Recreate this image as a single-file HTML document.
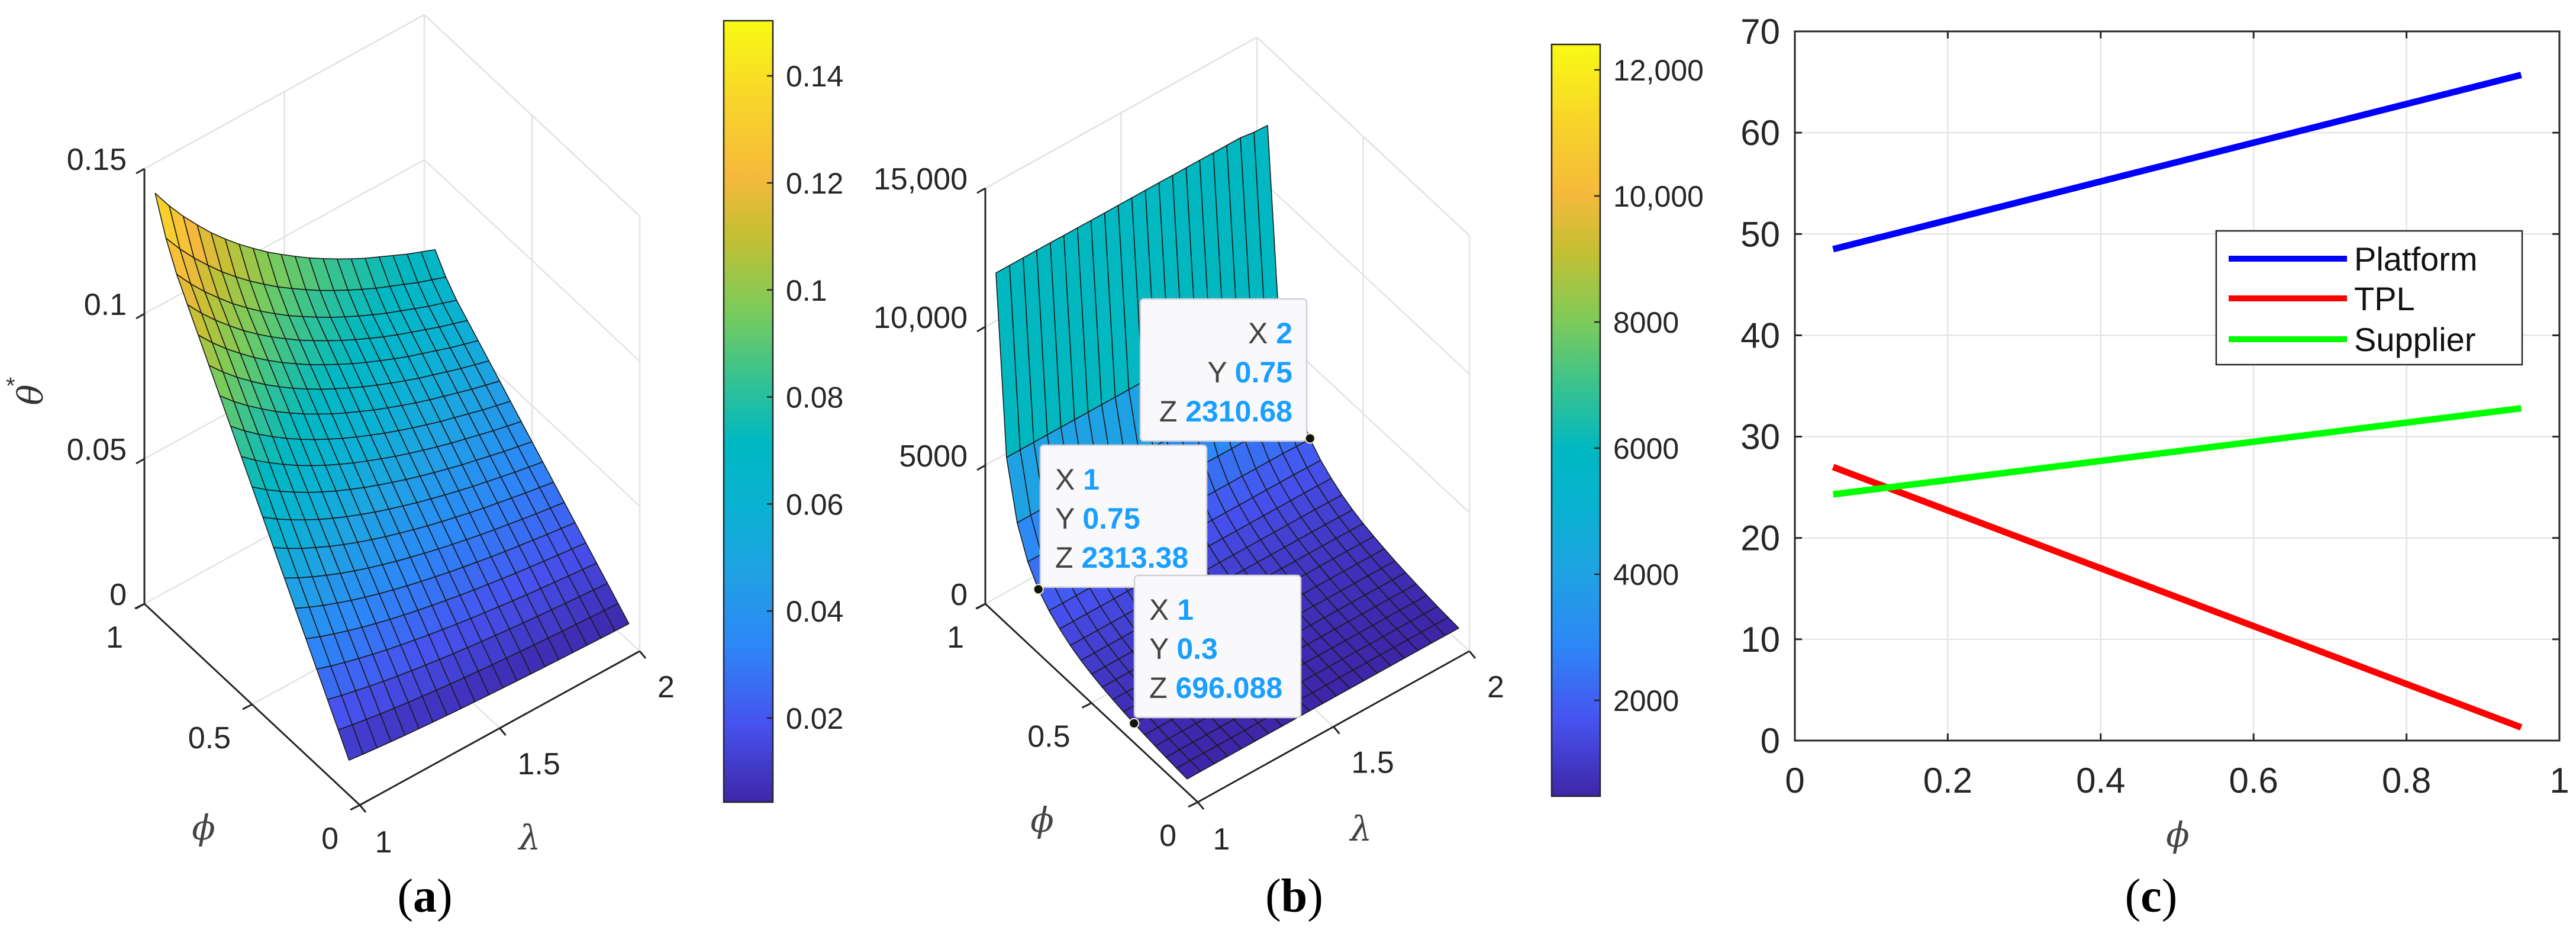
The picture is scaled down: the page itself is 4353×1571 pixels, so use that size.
<!DOCTYPE html>
<html><head><meta charset="utf-8"><style>
html,body{margin:0;padding:0;background:#fff;}
svg{display:block;font-family:"Liberation Sans",sans-serif;}
</style></head><body>
<svg id="fig" width="4353" height="1571" viewBox="0 0 4353 1571" xmlns="http://www.w3.org/2000/svg">
<defs>
<linearGradient id="parula" x1="0" y1="1" x2="0" y2="0">
<stop offset="0" stop-color="#3e26a8"/><stop offset="0.1" stop-color="#4752ef"/><stop offset="0.2" stop-color="#2d87f7"/>
<stop offset="0.3" stop-color="#1ea3e2"/><stop offset="0.38" stop-color="#0ab2d2"/><stop offset="0.46" stop-color="#00b8c2"/><stop offset="0.55" stop-color="#3cc38c"/>
<stop offset="0.63" stop-color="#7ccb5a"/><stop offset="0.72" stop-color="#c2c034"/><stop offset="0.8" stop-color="#f5b93c"/>
<stop offset="0.9" stop-color="#f8d529"/><stop offset="1" stop-color="#f9fa14"/>
</linearGradient>
</defs>
<g id="pa"></g>
<g id="pb"></g>
<g id="pc"></g>
</svg>
<script>
// ---- Panel a data ----
const lamVals = [1,1.05,1.1,1.15,1.2,1.25,1.3,1.35,1.4,1.45,1.5,1.55,1.6,1.65,1.7,1.75,1.8,1.85,1.9,1.95,2];
const phiVals = [0.05,0.1,0.15,0.2,0.25,0.3,0.35,0.4,0.45,0.5,0.55,0.6,0.65,0.7,0.75,0.8,0.85,0.9,0.95];
const thetaAtLam1 = [0.012,0.019,0.026,0.033,0.040,0.047,0.054,0.061,0.068,0.075,0.082,0.089,0.096,0.103,0.110,0.117,0.124,0.133,0.145];
const thetaLamFactor = [1,0.952,0.909,0.870,0.833,0.800,0.769,0.741,0.714,0.690,0.667,0.645,0.625,0.606,0.588,0.571,0.556,0.541,0.526,0.513,0.50];
const aZTicks = [0,0.05,0.1,0.15];
const aZTickLabels = ["0","0.05","0.1","0.15"];
const aCbarTicks = [0.02,0.04,0.06,0.08,0.1,0.12,0.14];
const aCbarLabels = ["0.02","0.04","0.06","0.08","0.1","0.12","0.14"];
// ---- Panel b data ----
const profitByPhi = [480,510,545,590,640,696,760,840,930,1040,1180,1360,1600,1900,2313,2950,4000,6000,12300];
const profitLamFactor = [1,1,1,1,1,0.9995,0.9995,0.999,0.999,0.999,0.999,0.999,0.999,0.9985,0.9985,0.9985,0.998,0.998,0.998,0.992,0.99];
const bZTicks = [0,5000,10000,15000];
const bZTickLabels = ["0","5000","10,000","15,000"];
const bCbarTicks = [2000,4000,6000,8000,10000,12000];
const bCbarLabels = ["2000","4000","6000","8000","10,000","12,000"];
const tipLam = [2,1,1];
const tipPhi = [0.75,0.75,0.3];
const tipZ = [2310.68,2313.38,696.088];
const tipLabels = [["2","0.75","2310.68"],["1","0.75","2313.38"],["1","0.3","696.088"]];
// ---- Panel c data ----
const cPhi = [0.05,0.95];
const platform = [48.5,65.7];
const tpl = [27.0,1.3];
const supplier = [24.3,32.8];
const cXTicks = [0,0.2,0.4,0.6,0.8,1];
const cXTickLabels = ["0","0.2","0.4","0.6","0.8","1"];
const cYTicks = [0,10,20,30,40,50,60,70];
const cYTickLabels = ["0","10","20","30","40","50","60","70"];

const NS="http://www.w3.org/2000/svg";
function mk(parent,tag,attrs,text){const e=document.createElementNS(NS,tag);for(const k in attrs)e.setAttribute(k,attrs[k]);if(text!==undefined)e.textContent=text;parent.appendChild(e);return e;}
const PAR=[[0,62,38,168],[0.1,71,82,239],[0.2,45,135,247],[0.3,30,163,226],[0.38,10,178,210],[0.46,0,184,194],[0.55,60,195,140],[0.63,124,203,90],[0.72,194,192,52],[0.8,245,185,60],[0.9,248,213,41],[1,249,250,20]];
function parula(t){t=Math.max(0,Math.min(1,t));for(let i=0;i<PAR.length-1;i++){if(t<=PAR[i+1][0]){const a=PAR[i],b=PAR[i+1],f=(t-a[0])/(b[0]-a[0]);return `rgb(${Math.round(a[1]+f*(b[1]-a[1]))},${Math.round(a[2]+f*(b[2]-a[2]))},${Math.round(a[3]+f*(b[3]-a[3]))})`;}}return "rgb(249,250,20)";}
const PHI='\u03D5';

function panel3d(g,cfg){
  const P=(lam,phi,z)=>[cfg.O[0]+(lam-1)*cfg.VL[0]+phi*cfg.VP[0], cfg.O[1]+(lam-1)*cfg.VL[1]+phi*cfg.VP[1]+(-z*cfg.kz)];
  const grid=mk(g,'g',{stroke:'#e3e3e3','stroke-width':2.5,fill:'none'});
  
  
  const line=(a,b,par)=>mk(par,'line',{x1:a[0],y1:a[1],x2:b[0],y2:b[1]});
  cfg.zTicks.forEach(z=>{line(P(1,1,z),P(2,1,z),grid);line(P(2,1,z),P(2,0,z),grid);});
  [1.5,2].forEach(l=>line(P(l,1,0),P(l,1,cfg.zMax),grid));
  [0,0.5].forEach(p=>line(P(2,p,0),P(2,p,cfg.zMax),grid));
  line(P(1,0.5,0),P(2,0.5,0),grid);line(P(1.5,0,0),P(1.5,1,0),grid);
  line(P(1,1,cfg.zMax),P(2,1,cfg.zMax),grid);line(P(2,0,cfg.zMax),P(2,1,cfg.zMax),grid);
  const surf=mk(g,'g',{stroke:'#1a1a1a','stroke-width':1.6,'stroke-linejoin':'round'});
  
  
  const faces=[];
  for(let i=0;i<phiVals.length-1;i++)for(let j=0;j<lamVals.length-1;j++){
    faces.push({i,j,d:phiVals[i]+(lamVals[j]-1)});
  }
  faces.sort((a,b)=>b.d-a.d);
  faces.forEach(f=>{
    const {i,j}=f;
    const pts=[[j,i],[j+1,i],[j+1,i+1],[j,i+1]].map(([jj,ii])=>P(lamVals[jj],phiVals[ii],cfg.z(ii,jj)));
    const c=parula((cfg.z(i,j)-cfg.cmin)/(cfg.cmax-cfg.cmin));
    mk(surf,'polygon',{points:pts.map(p=>p.join(',')).join(' '),fill:c});
  });
  const ax=mk(g,'g',{stroke:'#262626','stroke-width':3,fill:'none'});
  
  
  line(P(1,1,0),P(1,1,cfg.zMax),ax);line(P(1,1,0),P(1,0,0),ax);line(P(1,0,0),P(2,0,0),ax);
  const lab=mk(g,'g',{fill:'#262626','font-size':cfg.fs});
  
  
  cfg.zTicks.forEach((z,k)=>{const p=P(1,1,z);line(p,[p[0]-14,p[1]+8],ax);
    const t=mk(lab,'text',{x:p[0]-30,y:p[1]+2,'text-anchor':'end'},cfg.zLabels[k]);
    
    });
  [[0,"0"],[0.5,"0.5"],[1,"1"]].forEach(([ph,s])=>{const p=P(1,ph,0);line(p,[p[0]-16,p[1]+8],ax);
    const t=mk(lab,'text',{x:p[0]-36,y:p[1]+74,'text-anchor':'end'},s);
    
    });
  [[1,"1"],[1.5,"1.5"],[2,"2"]].forEach(([l,s])=>{const p=P(l,0,0);line(p,[p[0]+10,p[1]+12],ax);
    const t=mk(lab,'text',{x:p[0]+(l==1?40:30),y:p[1]+(l==1?80:78),'text-anchor':l==1?'middle':'start'},s);
    
    });
  const phiL=mk(g,'text',{x:cfg.phiLab[0],y:cfg.phiLab[1],'font-size':58,'font-style':'italic','font-family':'DejaVu Serif,serif',fill:'#444','text-anchor':'middle'},PHI);
  
  const lamL=mk(g,'text',{x:cfg.lamLab[0],y:cfg.lamLab[1],'font-size':58,'font-style':'italic','font-family':'DejaVu Serif,serif',fill:'#444','text-anchor':'middle'},'λ');
  
  const cb=mk(g,'g',{});
  
  const [cx0,cy0,cx1,cy1]=cfg.cbar;
  mk(cb,'rect',{x:cx0,y:cy0,width:cx1-cx0,height:cy1-cy0,fill:'url(#parula)',stroke:'#262626','stroke-width':2.5});
  const cy=v=>cy1-(v-cfg.cmin)/(cfg.cmax-cfg.cmin)*(cy1-cy0);
  cfg.cTicks.forEach((v,k)=>{const y=cy(v);mk(cb,'line',{x1:cx1-10,y1:y,x2:cx1,y2:y,stroke:'#262626','stroke-width':2.5});
    const t=mk(cb,'text',{x:cx1+22,y:y+18,'font-size':cfg.fs-2,fill:'#262626'},cfg.cLabels[k]);
    });
  const cap=mk(g,'text',{x:cfg.cap[0],y:cfg.cap[1],'font-size':80,'font-family':'Liberation Serif,serif','text-anchor':'middle',fill:'#000'});
  
  cap.innerHTML='(<tspan font-weight="bold">'+cfg.letter+'</tspan>)';
  return P;
}

// Panel a
const gA=document.getElementById('pa');
panel3d(gA,{O:[608,1360],VL:[473,-260],VP:[-364,-340],kz:735/0.15,zMax:0.15,zTicks:aZTicks,zLabels:aZTickLabels,
  z:(i,j)=>thetaAtLam1[i]*thetaLamFactor[j],cmin:0.0043,cmax:0.1503,fs:52,
  cbar:[1223,35,1306,1355],cTicks:aCbarTicks,cLabels:aCbarLabels,phiLab:[344,1418],lamLab:[895,1435],cap:[718,1540],letter:'a'});
const th=mk(gA,'text',{x:0,y:0,'font-size':58,'font-style':'italic','font-family':'DejaVu Serif,serif',fill:'#333','text-anchor':'middle',transform:'translate(72,667) rotate(-90)'},'θ');

const st=mk(gA,'text',{x:10,y:665,'font-size':40,fill:'#333'},'*');


// Panel b
const gB=document.getElementById('pb');
const PB=panel3d(gB,{O:[2024,1355],VL:[459,-255],VP:[-359,-335],kz:234/5000,zMax:15000,zTicks:bZTicks,zLabels:bZTickLabels,
  z:(i,j)=>profitByPhi[i]*profitLamFactor[j],cmin:479,cmax:12404,fs:52,
  cbar:[2622,75,2704,1345],cTicks:bCbarTicks,cLabels:bCbarLabels,phiLab:[1761,1405],lamLab:[2300,1420],cap:[2187,1540],letter:'b'});
const boxes=[[1927,505,'end'],[1758,752,'start'],[1917,972,'start']];
tipLam.forEach((l,k)=>{
  const p=PB(l,tipPhi[k],tipZ[k]);
  const [bx,by,al]=boxes[k];
  const tg=mk(gB,'g',{});
  
  mk(tg,'rect',{x:bx,y:by,width:281,height:240,rx:6,fill:'#f9f9fc',stroke:'#cfcfd8','stroke-width':2.5});
  ['X','Y','Z'].forEach((n,r)=>{
    const y=by+75+r*66;
    const t=mk(tg,'text',{x:al=='end'?bx+257:bx+25,y:y,'font-size':50,'text-anchor':al,fill:'#444'});
    t.innerHTML=n+' <tspan font-weight="bold" fill="#1a9fff">'+tipLabels[k][r]+'</tspan>';
  });
  const dot=mk(gB,'circle',{cx:p[0],cy:p[1],r:8,fill:'#111',stroke:'#f3f0c0','stroke-width':2});
  
});

// Panel c
const gC=document.getElementById('pc');
const X0=3033,X1=4325,Y0=1251,Y1=53;
const xs=v=>X0+v*(X1-X0), ys=v=>Y0-v/70*(Y0-Y1);
const cg=mk(gC,'g',{stroke:'#e6e6e6','stroke-width':2.5});

cXTicks.forEach(v=>mk(cg,'line',{x1:xs(v),y1:Y0,x2:xs(v),y2:Y1}));
cYTicks.forEach(v=>mk(cg,'line',{x1:X0,y1:ys(v),x2:X1,y2:ys(v)}));
const frame=mk(gC,'rect',{x:X0,y:Y1,width:X1-X0,height:Y0-Y1,fill:'none',stroke:'#262626','stroke-width':3});

const tk=mk(gC,'g',{stroke:'#262626','stroke-width':3});
cXTicks.forEach(v=>{mk(tk,'line',{x1:xs(v),y1:Y0,x2:xs(v),y2:Y0-12});mk(tk,'line',{x1:xs(v),y1:Y1,x2:xs(v),y2:Y1+12});});
cYTicks.forEach(v=>{mk(tk,'line',{x1:X0,y1:ys(v),x2:X0+12,y2:ys(v)});mk(tk,'line',{x1:X1,y1:ys(v),x2:X1-12,y2:ys(v)});});
cXTicks.forEach((v,k)=>{const t=mk(gC,'text',{x:xs(v),y:1339,'font-size':60,'text-anchor':'middle',fill:'#262626'},cXTickLabels[k]);
  });
cYTicks.forEach((v,k)=>{const t=mk(gC,'text',{x:3008,y:ys(v)+21,'font-size':60,'text-anchor':'end',fill:'#262626'},cYTickLabels[k]);
  });
const series=[[platform,'#0000ff','platform-line'],[tpl,'#ff0000','tpl-line'],[supplier,'#00ff00','supplier-line']];
series.forEach(([d,c,n])=>{
  const pl=mk(gC,'polyline',{points:cPhi.map((p,i)=>xs(p)+','+ys(d[i])).join(' '),fill:'none',stroke:c,'stroke-width':11});
  
  
});
const xl=mk(gC,'text',{x:3680,y:1430,'font-size':58,'font-style':'italic','font-family':'DejaVu Serif,serif',fill:'#444','text-anchor':'middle'},PHI);

const lg=mk(gC,'g',{});

mk(lg,'rect',{x:3745,y:390,width:517,height:226,fill:'#fff',stroke:'#262626','stroke-width':2.5});
[['Platform','#0000ff',437],['TPL','#ff0000',504],['Supplier','#00ff00',573]].forEach(([n,c,y])=>{
  const e=mk(lg,'g',{});
  
  mk(e,'line',{x1:3766,y1:y,x2:3966,y2:y,stroke:c,'stroke-width':10});
  mk(e,'text',{x:3978,y:y+20,'font-size':56,fill:'#111'},n);
});
const capc=mk(gC,'text',{x:3635,y:1540,'font-size':80,'font-family':'Liberation Serif,serif','text-anchor':'middle',fill:'#000'});

capc.innerHTML='(<tspan font-weight="bold">c</tspan>)';
</script>
</body></html>
